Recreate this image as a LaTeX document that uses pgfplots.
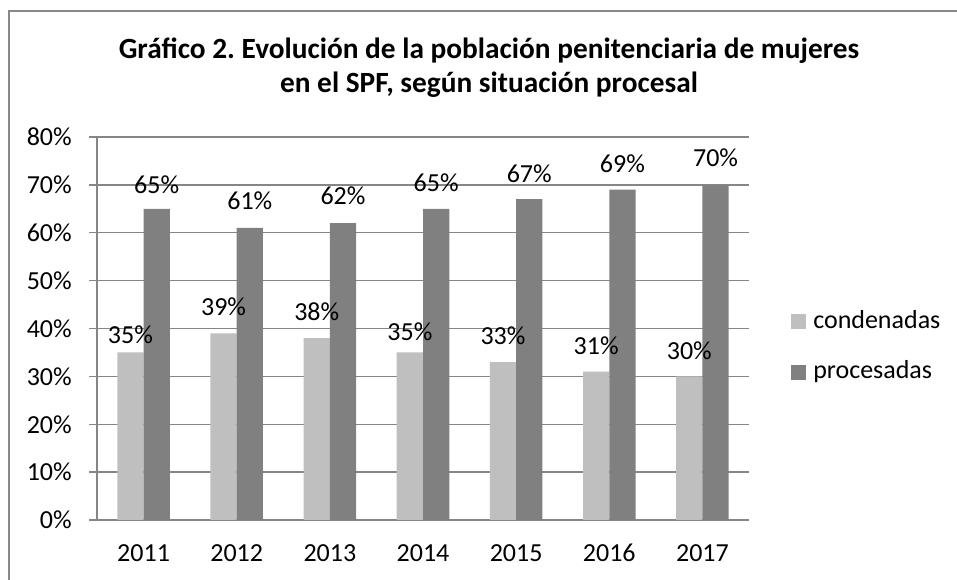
\documentclass[border=0pt]{standalone}
\usepackage{pgfplots}
\pgfplotsset{compat=1.18}
\usepackage{pgfplotstable}
\usepackage{fontspec}
\setmainfont{Carlito}
\frenchspacing
\definecolor{cond}{HTML}{BFBFBF}
\definecolor{proc}{HTML}{808080}
\definecolor{gridc}{HTML}{868686}
\definecolor{framec}{HTML}{888888}

\pgfplotstableread{
x c p oc op
0 35 65 13.5 18.4
1 39 61 20.25 20.25
2 38 62 19.5 20.25
3 35 65 15.75 19.5
4 33 67 19.5 19.1
5 31 69 19.5 19.5
6 30 70 19.5 20.25
}\datatable

\begin{document}
\begin{tikzpicture}
\useasboundingbox (0,0) rectangle (717.75pt,435pt);
\draw[framec, line width=1pt] (6.75pt,-10pt) rectangle (730pt,426.75pt);
\node[anchor=base, font=\bfseries\fontsize{22}{26}\selectfont] at (366.75pt,390.75pt) {Gráfico 2. Evolución de la población penitenciaria de mujeres};
\node[anchor=base, font=\bfseries\fontsize{22}{26}\selectfont] at (366.75pt,365.25pt) {en el SPF, según situación procesal};
\begin{axis}[
  at={(72.75pt,45pt)}, anchor=south west,
  scale only axis, width=489pt, height=287.25pt,
  font=\fontsize{19.5}{23.4}\selectfont,
  /pgf/number format/assume math mode=true,
  xmin=-0.5, xmax=6.5, ymin=0, ymax=80,
  axis lines*=left,
  axis line style={gridc, line width=1pt},
  ybar=0pt, bar width=19.7pt,
  xtick={0,1,2,3,4,5,6},
  xticklabels={2011,2012,2013,2014,2015,2016,2017},
  xtick style={draw=none},
  minor xtick={-0.5,0.5,1.5,2.5,3.5,4.5,5.5,6.5},
  minor x tick style={gridc, line width=1pt},
  ytick={0,10,...,80},
  yticklabel={\pgfmathprintnumber{\tick}\%},
  ytick style={gridc, line width=1pt},
  tick align=outside,
  major tick length=6pt, minor tick length=6pt,
  ymajorgrids, grid style={gridc, line width=1pt},
  yticklabel style={anchor=east, inner sep=0pt},
  yticklabel shift=12.75pt,
  xticklabel style={anchor=center, inner sep=0pt, yshift=-18.75pt},
  nodes near coords={\pgfmathprintnumber{\pgfplotspointmeta}\%},
  legend style={draw=none, fill=none, at={(1.0644,0.4517)}, anchor=west,
    inner sep=0pt, row sep=20pt,
    nodes={inner sep=0pt, text height=14pt, text depth=4pt},
    /tikz/every odd column/.style={column sep=5.25pt}},
  legend cell align=left,
  legend image code/.code={\fill[#1] (0pt,-5.6pt) rectangle (11.25pt,5.6pt);},
]
\addplot[fill=cond, draw=none,
  visualization depends on={\thisrow{oc} \as \myoff},
  nodes near coords style={anchor=center, yshift=\myoff pt, text=black}]
  table[x=x, y=c] {\datatable};
\addplot[fill=proc, draw=none,
  visualization depends on={\thisrow{op} \as \myoff},
  nodes near coords style={anchor=center, yshift=\myoff pt, text=black}]
  table[x=x, y=p] {\datatable};
\legend{condenadas,procesadas}
\end{axis}
\end{tikzpicture}
\end{document}
